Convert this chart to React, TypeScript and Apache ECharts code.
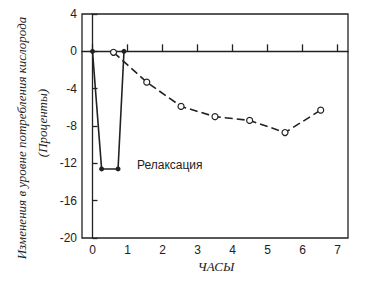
import React, { useEffect, useRef } from "react";
import * as echarts from "echarts";

const relaxX = [0, 0.26, 0.73, 0.9];
const relaxY = [0, -12.6, -12.6, 0];
const afterX = [0.6, 1.55, 2.53, 3.5, 4.49, 5.5, 6.52];
const afterY = [-0.1, -3.3, -5.9, -7.0, -7.4, -8.7, -6.3];
const yTitle1 = "Изменения в уровне потребления кислорода";
const yTitle2 = "(Проценты)";
const xTitle = "ЧАСЫ";
const note = "Релаксация";

export default function App() {
  const ref = useRef<HTMLDivElement>(null);
  useEffect(() => {
    if (!ref.current) return;
    const chart = echarts.init(ref.current, undefined, { renderer: "svg" });
    const ink = "#222";
    chart.setOption({
      animation: false,
      backgroundColor: "#fff",
      grid: {
        left: 82,
        right: 33,
        top: 14,
        bottom: 47,
        show: true,
        borderColor: ink,
        borderWidth: 1.3,
      },
      xAxis: {
        type: "value",
        min: -0.3,
        max: 7.3,
        minInterval: 1,
        maxInterval: 1,
        splitLine: { show: false },
        axisLine: { lineStyle: { color: ink, width: 1.3 } },
        axisTick: { inside: true, length: 7, lineStyle: { color: ink, width: 1.3 } },
        axisLabel: {
          color: ink,
          fontSize: 12,
          fontFamily: "Liberation Sans",
          margin: 6,
          showMinLabel: false,
          showMaxLabel: false,
          formatter: (v: number) => (Math.abs(v - Math.round(v)) < 1e-6 ? String(Math.round(v)) : ""),
        },
      },
      yAxis: {
        type: "value",
        min: -20,
        max: 4,
        interval: 4,
        splitLine: { show: false },
        axisLine: { lineStyle: { color: ink, width: 1.3 } },
        axisTick: { inside: true, length: 5, lineStyle: { color: ink, width: 1.3 } },
        axisLabel: { color: ink, fontSize: 12, fontFamily: "Liberation Sans", margin: 5 },
      },
      graphic: [
        {
          type: "text",
          x: 21,
          y: 138,
          rotation: Math.PI / 2,
          style: {
            text: yTitle1,
            font: "italic 13px 'Liberation Serif'",
            fill: ink,
            align: "center",
            verticalAlign: "middle",
          },
        },
        {
          type: "text",
          x: 42,
          y: 123,
          rotation: Math.PI / 2,
          style: {
            text: yTitle2,
            font: "italic 13px 'Liberation Serif'",
            fill: ink,
            align: "center",
            verticalAlign: "middle",
          },
        },
        {
          type: "text",
          x: 216,
          y: 266,
          style: {
            text: xTitle,
            font: "italic 13px 'Liberation Serif'",
            fill: ink,
            align: "center",
            verticalAlign: "middle",
          },
        },
        {
          type: "text",
          x: 137,
          y: 165,
          style: {
            text: note,
            font: "12px 'Liberation Sans'",
            fill: ink,
            align: "left",
            verticalAlign: "middle",
          },
        },
      ],
      series: [
        {
          type: "line",
          data: relaxX.map((x, i) => [x, relaxY[i]]),
          symbol: "circle",
          symbolSize: 5,
          itemStyle: { color: ink },
          lineStyle: { color: ink, width: 1.6 },
        },
        {
          type: "line",
          data: afterX.map((x, i) => [x, afterY[i]]),
          symbol: "circle",
          symbolSize: 6,
          itemStyle: { color: "#fff", borderColor: ink, borderWidth: 1.2 },
          lineStyle: { color: ink, width: 1.6, type: [8, 4] },
        },
      ],
    });
    return () => chart.dispose();
  }, []);
  return <div ref={ref} style={{ width: 381, height: 285, position: "absolute", left: 0, top: 0 }} />;
}
